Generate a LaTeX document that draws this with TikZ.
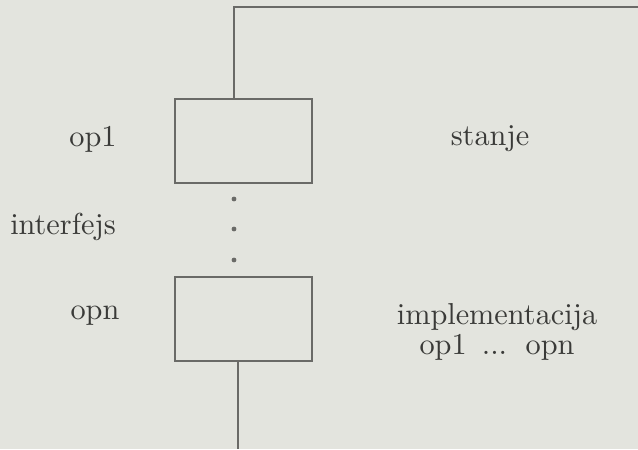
\documentclass[tikz,border=0pt]{standalone}
\usepackage{tikz}
\definecolor{paper}{HTML}{E3E4DE}
\definecolor{ink}{HTML}{3A3A38}
\definecolor{wire}{HTML}{6A6A67}
\newcommand{\WireWidth}{0.65pt}

\begin{document}
\begin{tikzpicture}[x=0.33pt,y=0.33pt,
        opbox/.style={draw=wire,line width=\WireWidth,minimum width=45.1pt,minimum height=27.8pt,inner sep=0pt},
        lbl/.style={text=ink,inner sep=0pt,align=center},
        dotmark/.style={circle,fill=wire,inner sep=0pt,minimum size=1.6pt}]
        \fill[paper] (0,0) rectangle (638,449);
        \useasboundingbox (0,0) rectangle (638,449);
        % the two operation boxes
        \node[opbox] (box1) at (243.3,307.8) {};
        \node[opbox] (box2) at (243.3,130) {};
        % dots between them
        \foreach \y [count=\i] in {250,220,189}
                \node[dotmark] (dot\i) at (234,\y) {};
        % wires
        \coordinate (tl) at (234,441.7);
        \coordinate (tr) at (638,441.7);
        \coordinate (bot) at (238,0);
        \draw[wire,line width=\WireWidth] (box1.north -| tl) -- (tl) -- (tr);
        \draw[wire,line width=\WireWidth] (box2.south -| bot) -- (bot);
        % labels
        \node[lbl] (op1) at (93,310) {op1};
        \node[lbl] (iface) at (63,222) {interfejs};
        \node[lbl] (opn) at (95,133) {opn};
        \node[lbl] (state) at (490,310) {stanje};
        \node[lbl] (impl) at (497,117) {implementacija\\[-2pt]op1 \,...\, opn};
\end{tikzpicture}
\end{document}
